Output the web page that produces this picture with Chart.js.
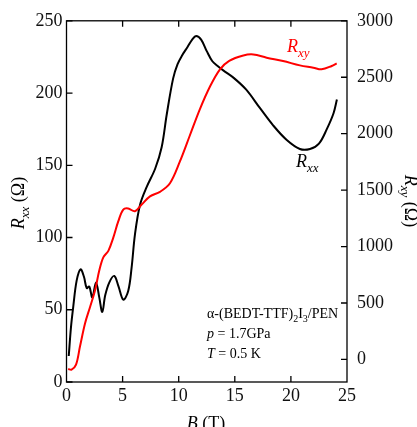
<!DOCTYPE html>
<html>
<head>
<meta charset="utf-8">
<script src="https://cdn.jsdelivr.net/npm/chart.js@4/dist/chart.umd.min.js"></script>
<style>
	html, body { margin: 0; padding: 0; background: #fff; }
	#wrap { width: 417px; height: 427px; }
</style>
</head>
<body>
<div id="wrap"><canvas id="chart" width="417" height="427"></canvas></div>
<script>

// Rxx (left axis, ohm) against field
const fieldXX = [0.2, 0.4, 0.6, 0.9, 1.25, 1.55, 1.8, 2.03, 2.3, 2.63, 2.92, 3.19, 3.45, 3.82, 4.26, 4.62, 5.06, 5.5, 5.8, 6.1, 6.55, 7.15, 7.9, 8.48, 8.93, 9.5, 9.9, 10.3, 10.8, 11.2, 11.55, 12.0, 12.5, 13.0, 13.5, 14.0, 14.9, 16.0, 17.25, 18.43, 19.63, 20.8, 21.7, 22.5, 23.2, 23.8, 24.1];
const rxx = [18, 38, 52, 70, 78, 73, 65, 66, 58.6, 68.9, 58.6, 48.5, 60, 69, 73.4, 66.6, 57, 63, 79, 102, 122.5, 135, 147.6, 162.5, 185, 210, 220, 226, 232, 237, 239.5, 237, 229, 222, 218.5, 215.5, 210.5, 202.5, 189.5, 177.5, 167.5, 161.3, 161.3, 165, 175, 186, 195.5];

// Rxy (right axis, ohm) against field
const fieldXY = [0.15, 0.45, 0.85, 1.2, 1.65, 2.1, 2.54, 2.92, 3.28, 3.73, 4.17, 4.62, 5.06, 5.5, 6.1, 6.7, 7.44, 8.33, 9.22, 10.1, 11.0, 11.9, 12.8, 13.68, 14.5, 15.76, 16.65, 17.84, 19.3, 20.8, 22.0, 22.74, 23.64, 24.08];
const rxy = [-84, -90, -46, 114, 319, 465, 611, 787, 904, 962, 1079, 1225, 1328, 1337, 1313, 1372, 1445, 1485, 1561, 1752, 1986, 2220, 2420, 2570, 2645, 2693, 2702, 2673, 2644, 2605, 2585, 2570, 2600, 2623];

const xTicks = [0, 5, 10, 15, 20, 25];
const leftTicks = [0, 50, 100, 150, 200, 250];
const rightTicks = [0, 500, 1000, 1500, 2000, 2500, 3000];

const SERIF = "'Liberation Serif', 'DejaVu Serif', serif";

const toPoints = (xs, ys) => xs.map((x, i) => ({ x: x, y: ys[i] }));

// draws a run of text pieces: {t, it, sub}
function richText(ctx, parts, x, y, size, color) {
	ctx.save();
	ctx.fillStyle = color;
	ctx.textBaseline = 'alphabetic';
	ctx.textAlign = 'left';
	let cx = x;
	parts.forEach(p => {
		const s = p.sub ? Math.round(size * 0.7) : size;
		ctx.font = (p.it ? 'italic ' : '') + s + 'px ' + SERIF;
		ctx.fillText(p.t, cx, y + (p.sub ? size * 0.25 : 0));
		cx += ctx.measureText(p.t).width;
	});
	ctx.restore();
	return cx - x;
}

function richWidth(ctx, parts, size) {
	let w = 0;
	parts.forEach(p => {
		const s = p.sub ? Math.round(size * 0.7) : size;
		ctx.font = (p.it ? 'italic ' : '') + s + 'px ' + SERIF;
		w += ctx.measureText(p.t).width;
	});
	return w;
}

const framePlugin = {
	id: 'frame',
	afterDraw(chart) {
		const ctx = chart.ctx;
		const a = chart.chartArea;
		const sx = chart.scales.x, sl = chart.scales.y, sr = chart.scales.y2;
		const tl = 6;

		ctx.save();
		ctx.strokeStyle = '#000';
		ctx.lineWidth = 1.3;
		ctx.strokeRect(a.left, a.top, a.right - a.left, a.bottom - a.top);

		ctx.beginPath();
		xTicks.slice(1, -1).forEach(v => {
			const px = sx.getPixelForValue(v);
			ctx.moveTo(px, a.bottom); ctx.lineTo(px, a.bottom - tl);
			ctx.moveTo(px, a.top); ctx.lineTo(px, a.top + tl);
		});
		leftTicks.forEach(v => {
			const py = sl.getPixelForValue(v);
			ctx.moveTo(a.left, py); ctx.lineTo(a.left + tl, py);
		});
		rightTicks.forEach(v => {
			const py = sr.getPixelForValue(v);
			ctx.moveTo(a.right, py); ctx.lineTo(a.right - tl, py);
		});
		ctx.stroke();
		ctx.restore();

		// axis titles
		const tLeft = [{ t: 'R', it: true }, { t: 'xx', it: true, sub: true }, { t: ' (Ω)' }];
		const wL = richWidth(ctx, tLeft, 18);
		ctx.save();
		ctx.translate(24, 203);
		ctx.rotate(-Math.PI / 2);
		richText(ctx, tLeft, -wL / 2, 0, 18, '#000');
		ctx.restore();

		const tRight = [{ t: 'R', it: true }, { t: 'xy', it: true, sub: true }, { t: ' (Ω)' }];
		const wR = richWidth(ctx, tRight, 18);
		ctx.save();
		ctx.translate(405, 201);
		ctx.rotate(Math.PI / 2);
		richText(ctx, tRight, -wR / 2, 0, 18, '#000');
		ctx.restore();

		const tB = [{ t: 'B', it: true }, { t: ' (T)' }];
		const wB = richWidth(ctx, tB, 18);
		richText(ctx, tB, 206 - wB / 2, 429, 18, '#000');

		// curve labels
		richText(ctx, [{ t: 'R', it: true }, { t: 'xy', it: true, sub: true }], 287, 52, 18, '#ff0000');
		richText(ctx, [{ t: 'R', it: true }, { t: 'xx', it: true, sub: true }], 296, 167, 18, '#000');

		// sample note
		richText(ctx, [{ t: 'α-(BEDT-TTF)' }, { t: '2', sub: true }, { t: 'I' }, { t: '3', sub: true }, { t: '/PEN' }], 207, 318, 14, '#000');
		richText(ctx, [{ t: 'p', it: true }, { t: ' = 1.7GPa' }], 207, 338, 14, '#000');
		richText(ctx, [{ t: 'T', it: true }, { t: ' = 0.5 K' }], 207, 358, 14, '#000');
	}
};

const tickFont = { family: SERIF, size: 18 };
const plainLabel = v => String(v);

new Chart(document.getElementById('chart').getContext('2d'), {
	type: 'line',
	data: {
		datasets: [
			{
				label: 'Rxy',
				data: toPoints(fieldXY, rxy),
				yAxisID: 'y2',
				borderColor: '#ff0000',
				borderWidth: 2,
				pointRadius: 0,
				tension: 0.35,
				fill: false
			},
			{
				label: 'Rxx',
				data: toPoints(fieldXX, rxx),
				yAxisID: 'y',
				borderColor: '#000000',
				borderWidth: 2,
				pointRadius: 0,
				tension: 0.35,
				fill: false
			}
		]
	},
	options: {
		responsive: false,
		animation: false,
		layout: { padding: { top: 17, left: 0, right: 0, bottom: 0 } },
		plugins: { legend: { display: false }, tooltip: { enabled: false } },
		scales: {
			x: {
				type: 'linear',
				min: 0,
				max: 25,
				grid: { display: false, drawTicks: false },
				border: { display: false },
				afterBuildTicks: s => { s.ticks = xTicks.map(v => ({ value: v })); },
				afterFit: s => { s.height = 45; },
				ticks: { font: tickFont, color: '#111', padding: 3, maxRotation: 0, callback: plainLabel }
			},
			y: {
				type: 'linear',
				position: 'left',
				min: 0,
				max: 250,
				grid: { display: false, drawTicks: false },
				border: { display: false },
				afterBuildTicks: s => { s.ticks = leftTicks.map(v => ({ value: v })); },
				afterFit: s => { s.width = 66.5; },
				ticks: { font: tickFont, color: '#111', padding: 4, callback: plainLabel }
			},
			y2: {
				type: 'linear',
				position: 'right',
				min: -200,
				max: 3000,
				grid: { display: false, drawTicks: false },
				border: { display: false },
				afterBuildTicks: s => { s.ticks = rightTicks.map(v => ({ value: v })); },
				afterFit: s => { s.width = 70; },
				ticks: { font: tickFont, color: '#111', padding: 10, callback: plainLabel }
			}
		}
	},
	plugins: [framePlugin]
});

</script>
</body>
</html>
